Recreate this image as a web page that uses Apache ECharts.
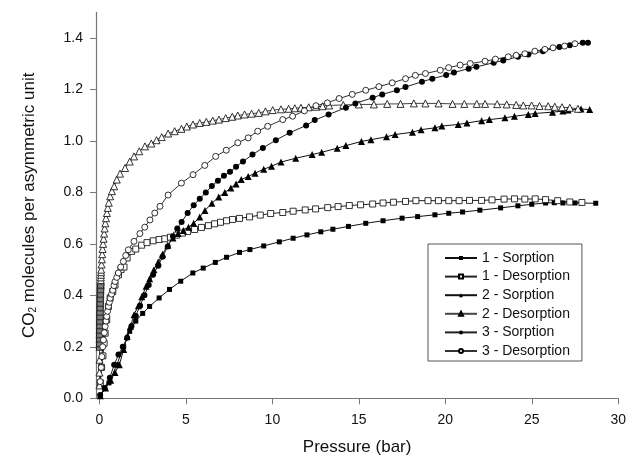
<!DOCTYPE html>
<html>
<head>
<meta charset="utf-8">
<script src="https://cdn.jsdelivr.net/npm/echarts@6/dist/echarts.min.js"></script>
<style>
html,body{margin:0;padding:0;background:#fff;}
#chart{width:629px;height:463px;}
</style>
</head>
<body>
<div id="chart"></div>
<script>
// CO2 uptake isotherms: [pressure (bar), molecules per asymmetric unit]
const sorption1 = [[0.05,0.01],[0.55,0.06],[1.0,0.13],[1.4,0.2],[1.75,0.26],[2.1,0.3],[2.5,0.33],[2.9,0.357],[3.45,0.39],[4.05,0.423],[4.7,0.455],[5.4,0.487],[6.0,0.506],[6.7,0.528],[7.35,0.548],[8.1,0.567],[8.7,0.578],[9.5,0.592],[10.4,0.608],[11.2,0.622],[12.0,0.635],[12.8,0.647],[13.5,0.657],[14.4,0.668],[15.4,0.68],[16.4,0.69],[17.5,0.7],[18.4,0.706],[19.4,0.713],[20.2,0.719],[21.0,0.724],[22.0,0.731],[23.2,0.74],[24.2,0.748],[25.0,0.754],[25.8,0.759],[26.3,0.76],[26.8,0.759],[27.5,0.759],[28.7,0.758]];
const desorption1 = [[0.05,0.06],[0.12,0.12],[0.2,0.165],[0.27,0.214],[0.33,0.253],[0.42,0.305],[0.52,0.357],[0.62,0.39],[0.77,0.415],[0.9,0.44],[1.1,0.48],[1.25,0.5],[1.42,0.51],[1.6,0.545],[1.86,0.571],[2.1,0.58],[2.44,0.595],[2.75,0.605],[3.11,0.612],[3.45,0.617],[3.78,0.62],[4.1,0.626],[4.46,0.634],[4.8,0.642],[5.1,0.648],[5.5,0.656],[5.9,0.664],[6.3,0.671],[6.66,0.678],[7.0,0.684],[7.35,0.69],[7.7,0.695],[8.1,0.699],[8.68,0.705],[9.3,0.712],[9.9,0.718],[10.6,0.722],[11.2,0.727],[11.9,0.732],[12.5,0.736],[13.2,0.741],[13.8,0.745],[14.45,0.749],[15.1,0.752],[15.8,0.755],[16.4,0.759],[17.0,0.762],[17.7,0.765],[18.3,0.768],[19.0,0.768],[19.6,0.768],[20.2,0.768],[20.8,0.768],[21.4,0.769],[22.1,0.769],[22.7,0.771],[23.4,0.774],[24.0,0.775],[24.6,0.774],[25.2,0.775],[25.8,0.772],[26.5,0.768],[27.2,0.763],[27.9,0.761]];
const sorption2 = [[0.05,0.01],[0.35,0.04],[0.65,0.07],[0.9,0.1],[1.15,0.13],[1.4,0.19],[1.6,0.24],[1.8,0.28],[2.0,0.325],[2.25,0.36],[2.45,0.395],[2.7,0.435],[2.9,0.465],[3.15,0.5],[3.4,0.53],[3.65,0.56],[3.95,0.595],[4.25,0.623],[4.55,0.64],[4.85,0.652],[5.15,0.665],[5.45,0.68],[5.8,0.705],[6.1,0.73],[6.5,0.758],[6.9,0.782],[7.25,0.8],[7.6,0.817],[7.9,0.833],[8.2,0.85],[8.6,0.862],[9.0,0.875],[9.5,0.89],[9.95,0.902],[10.5,0.918],[11.35,0.933],[12.3,0.947],[12.85,0.956],[13.75,0.972],[14.25,0.982],[15.15,0.998],[15.7,1.005],[16.6,1.016],[17.1,1.025],[18.1,1.034],[18.6,1.044],[19.4,1.051],[19.8,1.058],[20.75,1.064],[21.25,1.07],[22.1,1.079],[22.55,1.083],[23.45,1.09],[24.0,1.096],[24.8,1.103],[25.2,1.107],[26.2,1.112],[26.8,1.116],[27.1,1.12],[27.85,1.124],[28.35,1.122]];
const desorption2 = [[0.0,0.05],[0.0,0.1],[0.005,0.15],[0.01,0.2],[0.01,0.205],[0.011,0.21],[0.011,0.215],[0.012,0.22],[0.012,0.225],[0.013,0.23],[0.014,0.235],[0.015,0.24],[0.015,0.245],[0.016,0.25],[0.017,0.255],[0.018,0.26],[0.018,0.265],[0.019,0.27],[0.02,0.275],[0.02,0.28],[0.021,0.285],[0.022,0.29],[0.024,0.295],[0.025,0.3],[0.026,0.305],[0.027,0.31],[0.028,0.315],[0.03,0.32],[0.031,0.325],[0.032,0.33],[0.034,0.335],[0.035,0.34],[0.036,0.345],[0.037,0.35],[0.038,0.355],[0.04,0.36],[0.041,0.365],[0.042,0.37],[0.044,0.375],[0.045,0.38],[0.046,0.385],[0.047,0.39],[0.048,0.395],[0.05,0.4],[0.052,0.405],[0.055,0.41],[0.057,0.415],[0.06,0.42],[0.062,0.425],[0.065,0.43],[0.067,0.435],[0.07,0.44],[0.072,0.445],[0.075,0.45],[0.077,0.455],[0.08,0.46],[0.085,0.47],[0.09,0.48],[0.095,0.49],[0.1,0.5],[0.12,0.52],[0.14,0.54],[0.16,0.56],[0.18,0.58],[0.21,0.6],[0.24,0.62],[0.27,0.64],[0.3,0.66],[0.34,0.68],[0.38,0.7],[0.43,0.72],[0.48,0.74],[0.54,0.76],[0.62,0.785],[0.72,0.805],[0.85,0.824],[1.0,0.85],[1.19,0.873],[1.48,0.895],[1.75,0.92],[2.0,0.94],[2.3,0.96],[2.63,0.979],[3.0,0.99],[3.3,1.003],[3.6,1.015],[3.97,1.029],[4.35,1.038],[4.74,1.047],[5.05,1.056],[5.41,1.064],[5.8,1.07],[6.18,1.074],[6.55,1.079],[6.91,1.083],[7.3,1.089],[7.68,1.094],[8.0,1.099],[8.39,1.103],[8.8,1.106],[9.21,1.109],[9.6,1.115],[10.02,1.12],[10.5,1.123],[10.94,1.125],[11.3,1.127],[11.65,1.129],[12.1,1.131],[12.52,1.133],[12.9,1.135],[13.28,1.138],[14.1,1.14],[15.0,1.142],[15.87,1.142],[16.64,1.144],[17.41,1.144],[18.18,1.146],[18.85,1.146],[19.61,1.146],[20.42,1.144],[21.1,1.144],[21.82,1.144],[22.3,1.144],[23.0,1.143],[23.55,1.142],[24.1,1.14],[24.51,1.138],[24.99,1.138],[25.45,1.136],[25.95,1.135],[26.33,1.133],[26.75,1.131],[27.2,1.129],[27.67,1.125]];
const sorption3 = [[0.04,0.013],[0.3,0.04],[0.6,0.08],[0.85,0.13],[1.1,0.17],[1.35,0.2],[1.6,0.235],[1.85,0.28],[2.1,0.32],[2.35,0.36],[2.6,0.4],[2.85,0.44],[3.1,0.48],[3.4,0.515],[3.65,0.55],[3.95,0.59],[4.25,0.63],[4.5,0.66],[4.75,0.685],[5.1,0.72],[5.45,0.75],[5.8,0.775],[6.15,0.8],[6.5,0.825],[6.85,0.845],[7.2,0.865],[7.55,0.88],[7.9,0.9],[8.3,0.92],[8.85,0.947],[9.45,0.973],[10.2,1.003],[11.0,1.032],[11.95,1.06],[12.45,1.081],[13.25,1.103],[14.25,1.129],[14.8,1.146],[15.8,1.168],[16.35,1.181],[17.2,1.197],[17.7,1.21],[18.65,1.23],[19.25,1.242],[20.05,1.256],[20.5,1.266],[21.35,1.281],[21.8,1.288],[22.8,1.304],[23.35,1.313],[24.2,1.327],[24.8,1.336],[25.65,1.349],[26.6,1.365],[27.2,1.372],[27.95,1.382],[28.25,1.382]];
const desorption3 = [[0.04,0.065],[0.1,0.12],[0.14,0.162],[0.19,0.2],[0.23,0.227],[0.28,0.255],[0.33,0.279],[0.38,0.3],[0.42,0.318],[0.47,0.338],[0.52,0.357],[0.57,0.373],[0.62,0.389],[0.7,0.405],[0.77,0.42],[0.84,0.438],[0.9,0.454],[1.0,0.47],[1.09,0.487],[1.23,0.51],[1.38,0.532],[1.52,0.555],[1.67,0.577],[2.0,0.61],[2.34,0.64],[2.62,0.665],[2.92,0.693],[3.2,0.72],[3.5,0.746],[3.97,0.79],[4.74,0.836],[5.41,0.869],[6.09,0.905],[6.72,0.94],[7.33,0.964],[8.0,0.993],[8.6,1.012],[9.15,1.038],[9.73,1.057],[10.6,1.083],[11.17,1.096],[11.85,1.117],[12.52,1.137],[13.18,1.148],[13.86,1.165],[14.62,1.181],[15.4,1.197],[16.16,1.211],[16.93,1.226],[17.7,1.242],[18.27,1.255],[18.85,1.262],[19.71,1.275],[20.19,1.285],[20.86,1.295],[21.44,1.301],[22.3,1.31],[22.9,1.318],[23.64,1.327],[24.1,1.333],[24.6,1.339],[25.18,1.349],[25.76,1.356],[26.23,1.362],[26.9,1.369],[27.5,1.378]];

const seriesNames = ['1 - Sorption','1 - Desorption','2 - Sorption','2 - Desorption','3 - Sorption','3 - Desorption'];
const xTicks = [0,5,10,15,20,25,30];
const yTicks = [0,0.2,0.4,0.6,0.8,1.0,1.2,1.4];

const FONT = '"Liberation Sans", Arial, sans-serif';
const chart = echarts.init(document.getElementById('chart'), null, {renderer:'canvas'});

function makeSeries(name, data, symbol, size, filled, lineColor) {
  return {
    name: name,
    type: 'line',
    data: data,
    symbol: symbol,
    symbolSize: size,
    showAllSymbol: true,
    animation: false,
    lineStyle: {color: lineColor, width: 1},
    itemStyle: {
      color: filled ? '#000' : '#fff',
      borderColor: '#000',
      borderWidth: filled ? 0 : 0.8
    },
    emphasis: {disabled: true}
  };
}

chart.setOption({
  animation: false,
  backgroundColor: '#fff',
  grid: {left: 96, right: 8.5, top: 12.3, bottom: 64.7, containLabel: false},
  legend: {
    orient: 'vertical',
    left: 428,
    top: 244,
    data: seriesNames,
    itemWidth: 32,
    itemHeight: 5,
    itemGap: 4.6,
    padding: [7, 12, 3, 16],
    borderColor: '#555',
    borderWidth: 1,
    backgroundColor: '#fff',
    textStyle: {fontFamily: FONT, fontSize: 14, color: '#111', lineHeight: 14}
  },
  xAxis: {
    type: 'value',
    min: -0.2,
    max: 30,
    name: 'Pressure (bar)',
    nameLocation: 'middle',
    nameGap: 41,
    nameTextStyle: {fontFamily: FONT, fontSize: 17, color: '#111'},
    axisLine: {show: true, onZero: false, lineStyle: {color: '#777', width: 1.2}},
    axisTick: {show: true, inside: false, length: 6, customValues: xTicks, lineStyle: {color: '#777'}},
    axisLabel: {customValues: xTicks, margin: 15, fontFamily: FONT, fontSize: 14, color: '#111',
      formatter: v => String(Math.round(v))},
    splitLine: {show: false}
  },
  yAxis: {
    type: 'value',
    min: 0,
    max: 1.5,
    name: '{t|CO}{s|2}{t| molecules per asymmetric unit}',
    nameLocation: 'middle',
    nameGap: 58,
    nameTextStyle: {
      rich: {
        t: {fontFamily: FONT, fontSize: 17, color: '#111'},
        s: {fontFamily: FONT, fontSize: 10, color: '#111', verticalAlign: 'bottom', padding: [8, 0, 0, 0]}
      }
    },
    axisLine: {show: true, onZero: false, lineStyle: {color: '#777', width: 1.2}},
    axisTick: {show: true, inside: false, length: 6, customValues: yTicks, lineStyle: {color: '#777'}},
    axisLabel: {customValues: yTicks, margin: 13, fontFamily: FONT, fontSize: 14, color: '#111',
      formatter: v => v.toFixed(1)},
    splitLine: {show: false}
  },
  series: [
    makeSeries(seriesNames[0], sorption1, 'rect', 5, true, '#111'),
    makeSeries(seriesNames[1], desorption1, 'rect', 6, false, '#222'),
    makeSeries(seriesNames[2], sorption2, 'triangle', 7, true, '#111'),
    makeSeries(seriesNames[3], desorption2, 'triangle', 7, false, '#444'),
    makeSeries(seriesNames[4], sorption3, 'circle', 6, true, '#222'),
    makeSeries(seriesNames[5], desorption3, 'circle', 6, false, '#333')
  ]
});
</script>
</body>
</html>
